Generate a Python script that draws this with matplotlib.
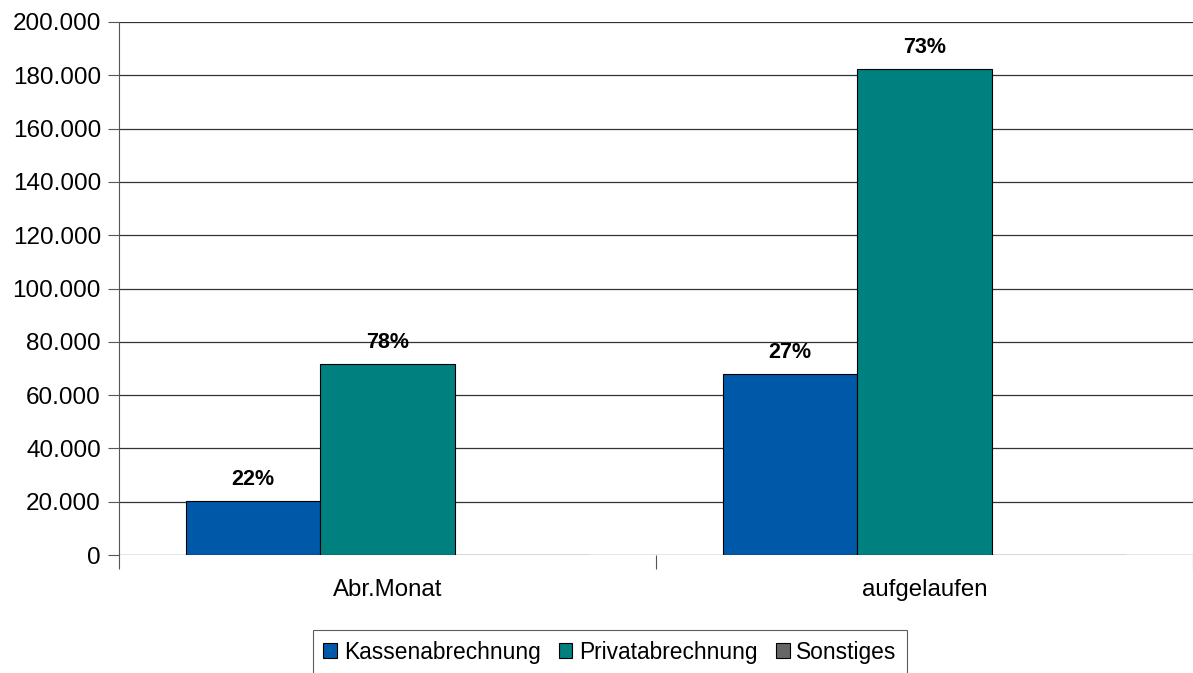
import matplotlib.pyplot as plt
import matplotlib.ticker as mticker
import numpy as np

plt.rcParams['font.family'] = ['Liberation Sans', 'DejaVu Sans']

categories = ['Abr.Monat', 'aufgelaufen']
series = ['Kassenabrechnung', 'Privatabrechnung', 'Sonstiges']
kasse = [20300, 67800]
privat = [71500, 182500]
sonstiges = [0, 0]
colors = ['#0058a8', '#00807f', '#666666']

values = [kasse, privat, sonstiges]
totals = np.sum(values, axis=0)

fig = plt.figure(figsize=(11.93, 6.73), dpi=100)
ax = fig.add_axes([119 / 1193, 1 - 555 / 673, 1 - 119 / 1193, (555 - 22) / 673])

x = np.arange(len(categories))
w = 0.25
for i, (name, vals, c) in enumerate(zip(series, values, colors)):
    pos = x + (i - 1) * w
    bars = ax.bar(pos, vals, width=w, color=c, edgecolor='black', linewidth=0.8,
                  label=name, zorder=3)
    if name != 'Sonstiges':
        for b, v, t in zip(bars, vals, totals):
            ax.annotate(f'{v / t * 100:.0f}%', (b.get_x() + b.get_width() / 2, v),
                        xytext=(0, 8), textcoords='offset points',
                        ha='center', va='bottom', fontsize=15.5, fontweight='bold')

ax.set_xlim(-0.5, 1.5)
ax.set_ylim(0, 200000)
ax.set_yticks(np.arange(0, 200001, 20000))
ax.yaxis.set_major_formatter(mticker.FuncFormatter(
    lambda v, p: f'{int(v):,}'.replace(',', '.')))
ax.yaxis.grid(True, color='#333333', linewidth=0.9, zorder=0)

ax.set_xticks([-0.5, 0.5, 1.5])
ax.set_xticklabels([])
ax.set_xticks(x, minor=True)
ax.set_xticklabels(categories, minor=True)
ax.tick_params(axis='x', which='major', length=10, direction='out', color='#555555')
ax.tick_params(axis='x', which='minor', length=0, pad=17, labelsize=17.3)
ax.tick_params(axis='y', length=8, color='#555555', labelsize=17.5, pad=5)

for s in ['top', 'right', 'bottom']:
    ax.spines[s].set_visible(False)
ax.spines['left'].set_color('#555555')

leg = fig.legend(loc='center', bbox_to_anchor=(610 / 1193, 1 - 652 / 673), ncol=3,
                 fontsize=16.4, frameon=True, fancybox=False, edgecolor='#333333',
                 handlelength=0.6, handleheight=0.6, handletextpad=0.3,
                 columnspacing=0.8, borderpad=0.45)
leg.get_frame().set_linewidth(0.8)

fig.savefig('out.png', dpi=100)
